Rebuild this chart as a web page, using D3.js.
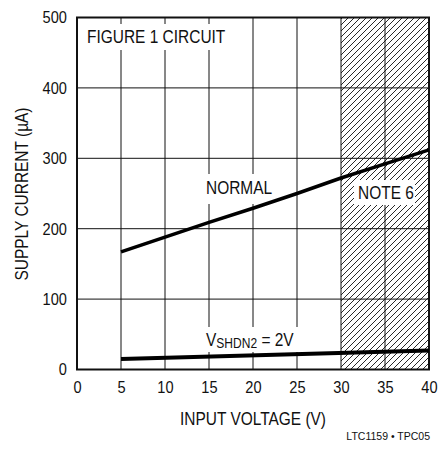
<!DOCTYPE html>
<html><head><meta charset="utf-8">
<script src="https://cdn.jsdelivr.net/npm/d3@7"></script>
<style>
body{margin:0;background:#fff;}
text{font-family:"Liberation Sans",Arial,sans-serif;fill:#111;}
</style></head>
<body><svg id="c" width="438" height="455"></svg>
<script>
const xTicks = [0,5,10,15,20,25,30,35,40];
const yTicks = [0,100,200,300,400,500];
const normalV = [5,10,15,20,25,30,35,40];
const normalI = [167,188,209,229,250,272,292,312];
const shdnV = [5,40];
const shdnI = [15,27];
const note6Range = [30,40];

const K = 0.86;
const svg = d3.select("#c");
const x = d3.scaleLinear().domain([0,40]).range([77,429]);
const y = d3.scaleLinear().domain([0,500]).range([369.5,17.5]);

const defs = svg.append("defs");
const s = 6;
const pat = defs.append("pattern").attr("id","hatch").attr("patternUnits","userSpaceOnUse")
  .attr("width",s).attr("height",s);
pat.append("path").attr("d",`M-1,1 L1,-1 M0,${s} L${s},0 M${s-1},${s+1} L${s+1},${s-1}`)
  .attr("stroke","#111").attr("stroke-width",0.9);

// hatch region
svg.append("rect").attr("x",x(note6Range[0])).attr("y",y(500))
  .attr("width",x(note6Range[1])-x(note6Range[0])).attr("height",y(0)-y(500))
  .attr("fill","url(#hatch)");

// grid
const g = svg.append("g");
g.selectAll(".vg").data(xTicks.slice(1,-1)).join("line")
  .attr("x1",d=>x(d)).attr("x2",d=>x(d)).attr("y1",y(0)).attr("y2",y(500))
  .attr("stroke","#111").attr("stroke-width",1);
g.selectAll(".hg").data(yTicks.slice(1,-1)).join("line")
  .attr("y1",d=>y(d)).attr("y2",d=>y(d)).attr("x1",x(0)).attr("x2",x(40))
  .attr("stroke","#111").attr("stroke-width",1);

// label backgrounds (white)
const bgs = [[80,24,150,26],[200,174,76,30],[354,180,61,25],[200,327,106,25]];
svg.selectAll(".bg").data(bgs).join("rect")
  .attr("x",d=>d[0]).attr("y",d=>d[1]).attr("width",d=>d[2]).attr("height",d=>d[3]).attr("fill","#fff");

// frame
svg.append("rect").attr("x",x(0)).attr("y",y(500)).attr("width",x(40)-x(0)).attr("height",y(0)-y(500))
  .attr("fill","none").attr("stroke","#111").attr("stroke-width",2);

// axes labels
const xa = d3.axisBottom(x).tickValues(xTicks).tickSize(0).tickPadding(11);
const ya = d3.axisLeft(y).tickValues(yTicks).tickSize(0).tickPadding(10);
const gx = svg.append("g").attr("transform",`translate(0,${y(0)})`).call(xa);
const gy = svg.append("g").attr("transform",`translate(${x(0)},0)`).call(ya);
[gx,gy].forEach(a=>{a.select(".domain").remove();
  a.selectAll("text").attr("font-size",17).attr("fill","#111")
   .attr("font-family",'"Liberation Sans",Arial,sans-serif').attr("transform",`scale(${K},1)`);});
gy.selectAll("text").attr("x",-10/K);

// curves
const line = d3.line().x(d=>x(d[0])).y(d=>y(d[1]));
svg.append("path").datum(normalV.map((v,i)=>[v,normalI[i]])).attr("d",line)
  .attr("fill","none").attr("stroke","#000").attr("stroke-width",3.5);
svg.append("path").datum(shdnV.map((v,i)=>[v,shdnI[i]])).attr("d",line)
  .attr("fill","none").attr("stroke","#000").attr("stroke-width",4);

// texts
function label(px,py,str,size,anchor,rot){
  const t = svg.append("text")
    .attr("transform",`translate(${px},${py})${rot?` rotate(${rot})`:""} scale(${K},1)`)
    .attr("font-size",size).attr("text-anchor",anchor||"start");
  if(str) t.text(str);
  return t;
}
label(87,43,"FIGURE 1 CIRCUIT",18);
label(206,194,"NORMAL",18);
label(358,199,"NOTE 6",18);
const vt = label(206,346,null,18);
vt.append("tspan").text("V");
vt.append("tspan").attr("font-size",14).attr("dy",2).text("SHDN2");
vt.append("tspan").attr("dy",-2).text(" = 2V");

label(253,425,"INPUT VOLTAGE (V)",18,"middle");
label(28,194,"SUPPLY CURRENT (µA)",18,"middle",-90);
svg.append("text").attr("x",430).attr("y",440).attr("text-anchor","end").attr("font-size",10.5)
  .text("LTC1159 • TPC05");
</script></body></html>
